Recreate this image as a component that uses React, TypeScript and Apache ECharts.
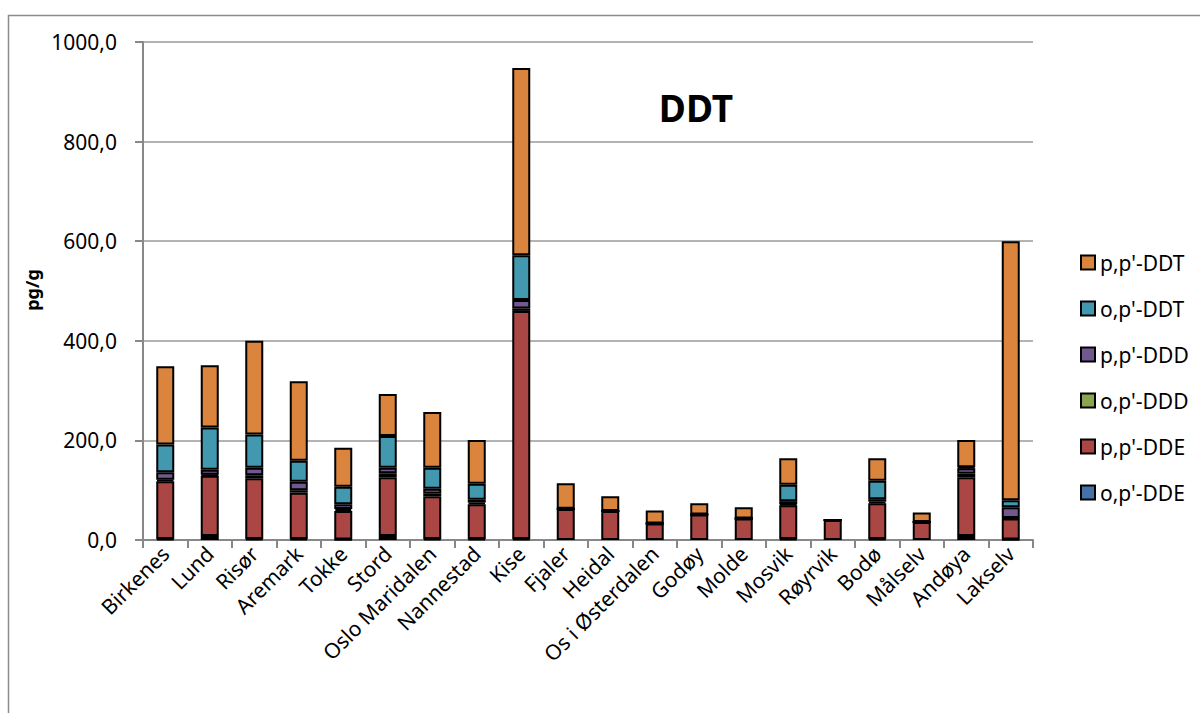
import React, { useEffect, useRef } from "react";
import * as echarts from "echarts";

const categories = [
  "Birkenes", "Lund", "Risør", "Aremark", "Tokke", "Stord", "Oslo Maridalen", "Nannestad",
  "Kise", "Fjaler", "Heidal", "Os i Østerdalen", "Godøy", "Molde", "Mosvik", "Røyrvik",
  "Bodø", "Målselv", "Andøya", "Lakselv",
];

const opDDE = [2, 8, 2, 2, 1, 8, 2, 2, 2, -3, -2, -4, -2, -3, 2, -3, 2, -3, 8, 1];
const ppDDE = [116, 121, 122, 93, 57, 118, 86, 70, 458, 62, 58, 33, 51, 43, 68, 40, 72, 36, 118, 42];
const opDDD = [3, 2, 6, 5, 4, 8, 5, 3, 5, 1, 0, 0, 0, 0, 2, 0, 3, 0, 7, 1];
const ppDDD = [15, 10, 15, 17, 10, 11, 10, 6, 17, 0, 0, 0, 0, 0, 6, 0, 5, 0, 11, 22];
const opDDT = [56, 85, 67, 42, 35, 64, 42, 32, 90, 0, 0, 0, 0, 0, 33, 0, 37, 0, 2, 14];
const ppDDT = [157, 125, 188, 160, 78, 84, 112, 88, 376, 51, 30, 26, 23, 23, 53, 0, 45, 19, 55, 520];

const seriesNames = ["o,p'-DDE", "p,p'-DDE", "o,p'-DDD", "p,p'-DDD", "o,p'-DDT", "p,p'-DDT"];
const seriesData = [opDDE, ppDDE, opDDD, ppDDD, opDDT, ppDDT];
const seriesColors = ["#4572A7", "#AA4643", "#89A54E", "#71588F", "#4198AF", "#DB843D"];

const FONT = '"Noto Sans", "Open Sans", sans-serif';

export default function App() {
  const ref = useRef<HTMLDivElement>(null);
  useEffect(() => {
    if (!ref.current) return;
    const chart = echarts.init(ref.current, undefined, { renderer: "svg" });
    chart.setOption({
      animation: false,
      backgroundColor: "#ffffff",
      grid: { left: 143, right: 167, top: 42, bottom: 173, containLabel: false },
      legend: {
        orient: "vertical",
        left: 1075,
        top: 247,
        itemWidth: 14,
        itemHeight: 14,
        itemGap: 25,
        icon: "rect",
        data: [...seriesNames].reverse(),
        textStyle: { fontFamily: FONT, fontSize: 21, color: "#000", lineHeight: 20, padding: [0, 0, 0, 0] },
      },
      xAxis: {
        type: "category",
        data: categories,
        axisLine: { show: true, lineStyle: { color: "#888", width: 2 } },
        axisTick: { show: true, interval: 0, length: 8, lineStyle: { color: "#888", width: 2 } },
        axisLabel: {
          interval: 0,
          rotate: 45,
          margin: 10,
          fontFamily: FONT,
          fontSize: 21,
          color: "#000",
        },
      },
      yAxis: {
        type: "value",
        min: 0,
        max: 1000,
        interval: 200,
        axisLine: { show: true, lineStyle: { color: "#888", width: 2 } },
        axisTick: { show: true, length: 8, lineStyle: { color: "#888", width: 2 } },
        splitLine: { show: true, lineStyle: { color: "#9a9a9a", width: 1.5 } },
        axisLabel: {
          margin: 26,
          fontFamily: FONT,
          fontSize: 21,
          color: "#000",
          formatter: (v: number) => v.toFixed(1).replace(".", ","),
        },
      },
      graphic: [
        {
          type: "rect",
          shape: { x: 8.5, y: 15.5, width: 1400, height: 900 },
          style: { fill: "none", stroke: "#8c8c8c", lineWidth: 1.5 },
          silent: true,
          z: -10,
        },
        {
          type: "text",
          x: 696,
          y: 107,
          style: {
            text: "DDT",
            fill: "#000",
            font: `bold 37px ${FONT}`,
            align: "center",
            verticalAlign: "middle",
            textAlign: "center",
            textVerticalAlign: "middle",
          },
        },
        {
          type: "text",
          x: 32,
          y: 290,
          rotation: Math.PI / 2,
          style: {
            text: "pg/g",
            fill: "#000",
            font: `bold 18px ${FONT}`,
            align: "center",
            verticalAlign: "middle",
            textAlign: "center",
            textVerticalAlign: "middle",
          },
        },
      ],
      series: seriesNames.map((name, i) => ({
        name,
        type: "bar",
        stack: "total",
        barWidth: 18,
        data: seriesData[i],
        itemStyle: { color: seriesColors[i], borderColor: "#000", borderWidth: 2 },
      })),
    });
    return () => chart.dispose();
  }, []);
  return (
    <div
      ref={ref}
      style={{ position: "fixed", left: 0, top: 0, width: 1200, height: 713, background: "#fff" }}
    />
  );
}
